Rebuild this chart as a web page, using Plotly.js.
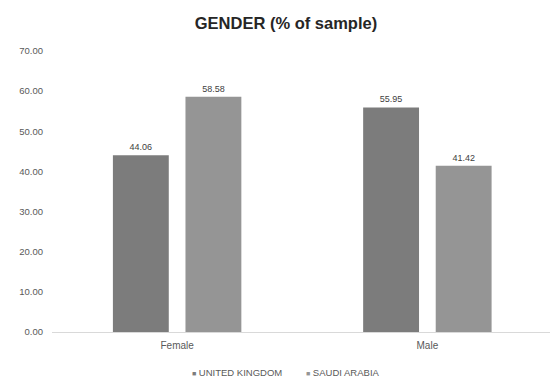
<!DOCTYPE html>
<html>
<head>
<meta charset="utf-8">
<script src="https://cdn.plot.ly/plotly-3.0.1.min.js"></script>
<style>
  html, body { margin: 0; padding: 0; background: #ffffff; }
  #chart { width: 550px; height: 385px; }
</style>
</head>
<body>
<div id="chart"></div>
<script>
// Gender split of each country's sample, in percent
const categories = ['Female', 'Male'];
const ukValues = [44.06, 55.95];
const saValues = [58.58, 41.42];
const seriesNames = ['UNITED KINGDOM', 'SAUDI ARABIA'];
const seriesColors = ['#7c7c7c', '#959595'];
const yTicks = [0, 10, 20, 30, 40, 50, 60, 70];

const font = 'Liberation Sans, Arial, sans-serif';
const textGrey = '#595959';

function barTrace(name, values, color) {
  return {
    type: 'bar',
    name: name,
    x: categories,
    y: values,
    marker: { color: color },
    texttemplate: '%{y:.2f}',
    textposition: 'outside',
    textfont: { family: font, size: 9, color: '#404040' },
    cliponaxis: false,
    hoverinfo: 'skip'
  };
}

const data = [
  barTrace(seriesNames[0], ukValues, seriesColors[0]),
  barTrace(seriesNames[1], saValues, seriesColors[1])
];

// compact legend under the plot: small coloured square followed by the series name
const plotLeft = 52, plotWidth = 498;
const legendX = [190, 304];
const legendItems = seriesNames.map((name, i) => ({
  xref: 'paper', yref: 'paper',
  x: (legendX[i] - plotLeft) / plotWidth,
  y: -0.145,
  xanchor: 'left', yanchor: 'middle',
  showarrow: false,
  text: '<span style="color:' + seriesColors[i] + ';font-size:7px">■</span> ' + name,
  font: { family: font, size: 9.5, color: textGrey }
}));

const layout = {
  width: 550,
  height: 385,
  paper_bgcolor: '#ffffff',
  plot_bgcolor: '#ffffff',
  margin: { l: plotLeft, r: 0, t: 51, b: 53 },
  font: { family: font, color: textGrey },
  title: {
    text: '<b>GENDER (% of sample)</b>',
    font: { family: font, size: 16.5, color: '#262626' },
    x: 286 / 550, xref: 'container', xanchor: 'center',
    y: 0.94, yref: 'container', yanchor: 'middle'
  },
  barmode: 'group',
  bargap: 0.42,
  bargroupgap: 0.23,
  xaxis: {
    type: 'category',
    range: [-0.5, 1.49],
    showgrid: false,
    showline: true,
    linecolor: '#d9d9d9',
    linewidth: 1,
    ticks: '',
    tickfont: { family: font, size: 10, color: textGrey },
    ticklabelstandoff: 4
  },
  yaxis: {
    range: [0, 70],
    tickvals: yTicks,
    ticktext: yTicks.map(v => v.toFixed(2)),
    showgrid: false,
    zeroline: false,
    showline: false,
    ticks: '',
    tickfont: { family: font, size: 9.5, color: textGrey },
    ticklabelstandoff: 8
  },
  showlegend: false,
  annotations: legendItems
};

Plotly.newPlot('chart', data, layout, { displayModeBar: false, staticPlot: true });
</script>
</body>
</html>
